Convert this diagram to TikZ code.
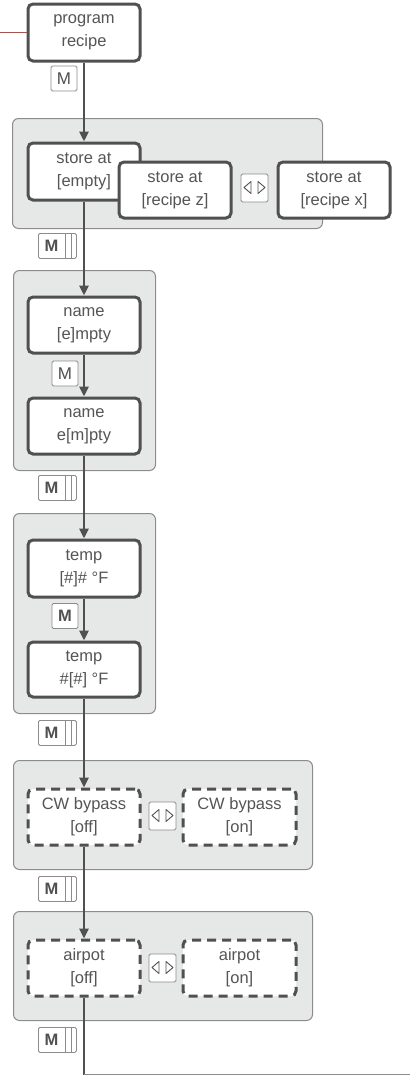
\documentclass[tikz,border=0pt]{standalone}
\usepackage{fontspec}
\setmainfont{Liberation Sans}
\usetikzlibrary{arrows.meta}
\definecolor{linec}{HTML}{505050}
\definecolor{txtc}{HTML}{555555}
\definecolor{grpfill}{HTML}{E6E7E7}
\definecolor{grpline}{HTML}{8C8C8C}
\definecolor{redc}{HTML}{E03A32}
\tikzset{
  stepnode/.style={draw=linec, line width=3pt, rounded corners=5pt, fill=white,
    minimum width=112pt, minimum height=57pt, align=center, text=txtc,
    font=\fontsize{16.5}{23}\selectfont, inner sep=0pt},
  dashnode/.style={stepnode, dash pattern=on 9pt off 6pt},
  grp/.style={draw=grpline, line width=1pt, fill=grpfill, rounded corners=6pt, inner sep=0pt},
  keybox/.style={draw=grpline, line width=0.8pt, fill=white, rounded corners=1.5pt, inner sep=0pt},
  keytext/.style={text=linec, font=\fontsize{17}{17}\selectfont, inner sep=0pt},
  keybold/.style={text=linec, font=\fontsize{16.5}{17}\selectfont\bfseries, inner sep=0pt},
  flow/.style={draw=linec, line width=2.5pt, -{Triangle[length=10pt,width=9pt]}},
  plainline/.style={draw=linec, line width=2.5pt},
  triline/.style={draw=linec, line width=0.9pt, line join=round},
}
\newcommand\MBar[2]{%
  \node[keybox, minimum width=38pt, minimum height=25pt, anchor=north west] (#1) at (38,#2) {};
  \node[keybold] (#1t) at ([xshift=13.5pt]#1.west) {M};
  \draw[grpline, line width=0.8pt] ([xshift=-11pt]#1.north east) -- ([xshift=-11pt]#1.south east);
  \draw[grpline, line width=0.8pt] ([xshift=-5.5pt]#1.north east) -- ([xshift=-5.5pt]#1.south east);
}
\newcommand\LRKey[3]{%
  \node[keybox, minimum width=27pt, minimum height=28pt] (#1) at (#2,#3) {};
  \draw[triline] ([xshift=-10.5pt,yshift=0.5pt]#1.center) -- ([xshift=-3.5pt,yshift=6.5pt]#1.center) -- ([xshift=-3.5pt,yshift=-5.5pt]#1.center) -- cycle;
  \draw[triline] ([xshift=10.5pt,yshift=0.5pt]#1.center) -- ([xshift=3.5pt,yshift=6.5pt]#1.center) -- ([xshift=3.5pt,yshift=-5.5pt]#1.center) -- cycle;
}
\begin{document}
\begin{tikzpicture}[x=1pt,y=-1pt]
\useasboundingbox (0,0) rectangle (410,1076);
% groups
\node[grp, minimum width=310pt, minimum height=110pt, anchor=north west] (g1) at (12,118) {};
\node[grp, minimum width=142pt, minimum height=200pt, anchor=north west] (g2) at (13,270) {};
\node[grp, minimum width=142pt, minimum height=200pt, anchor=north west] (g3) at (13,513) {};
\node[grp, minimum width=299pt, minimum height=109pt, anchor=north west] (g4) at (13,760) {};
\node[grp, minimum width=299pt, minimum height=109pt, anchor=north west] (g5) at (13,911) {};
% steps
\node[stepnode] (prog) at (84,32.5) {program\\recipe};
\node[stepnode] (se) at (84,171.5) {store at\\{[empty]}};
\node[stepnode, minimum height=56pt] (srz) at (175,190) {store at\\{[recipe z]}};
\node[stepnode, minimum height=56pt] (srx) at (334,190) {store at\\{[recipe x]}};
\node[stepnode, minimum height=56pt] (ne) at (84,325) {name\\{[e]mpty}};
\node[stepnode, minimum height=56pt] (nm) at (84,426) {name\\e[m]pty};
\node[stepnode] (t1) at (84,568.5) {temp\\{[\#]\# °F}};
\node[stepnode, minimum height=55pt] (t2) at (84,669.5) {temp\\\#[\#] °F};
\node[dashnode, minimum height=56pt] (cw1) at (84,817) {CW bypass\\{[off]}};
\node[dashnode, minimum height=56pt, minimum width=113pt] (cw2) at (239.5,817) {CW bypass\\{[on]}};
\node[dashnode, minimum height=56pt] (a1) at (84,968) {airpot\\{[off]}};
\node[dashnode, minimum height=56pt, minimum width=113pt] (a2) at (239.5,968) {airpot\\{[on]}};
% connectors
\coordinate (redstart) at (0,32.5);
\draw[redc, line width=1.5pt] (redstart) -- (prog.west);
\draw[flow] (prog.south) -- (se.north);
\draw[flow] (se.south) -- (ne.north);
\draw[flow] (ne.south) -- (nm.north);
\draw[flow] (nm.south) -- (t1.north);
\draw[flow] (t1.south) -- (t2.north);
\draw[flow] (t2.south) -- (cw1.north);
\draw[flow] (cw1.south) -- (a1.north);
\coordinate (bend) at (84,1074.5);
\coordinate (out) at (410,1074.5);
\draw[plainline] (a1.south) -- (bend);
\draw[grpline, line width=1pt] (bend) -- (out);
% keys
\node[keybox, minimum width=26pt, minimum height=25pt] (m1) at (64,78.5) {};
\node[keytext] (m1t) at (m1.center) {M};
\node[keybox, minimum width=26pt, minimum height=25pt] (m2) at (65,373.5) {};
\node[keytext] (m2t) at (m2.center) {M};
\node[keybox, minimum width=26pt, minimum height=25pt] (m3) at (65,616) {};
\node[keybold] (m3t) at (m3.center) {M};
\MBar{b1}{233}
\MBar{b2}{475}
\MBar{b3}{720}
\MBar{b4}{876}
\MBar{b5}{1027}
\LRKey{lr1}{254.5}{188}
\LRKey{lr2}{162.5}{816}
\LRKey{lr3}{162.5}{968}
\end{tikzpicture}
\end{document}
